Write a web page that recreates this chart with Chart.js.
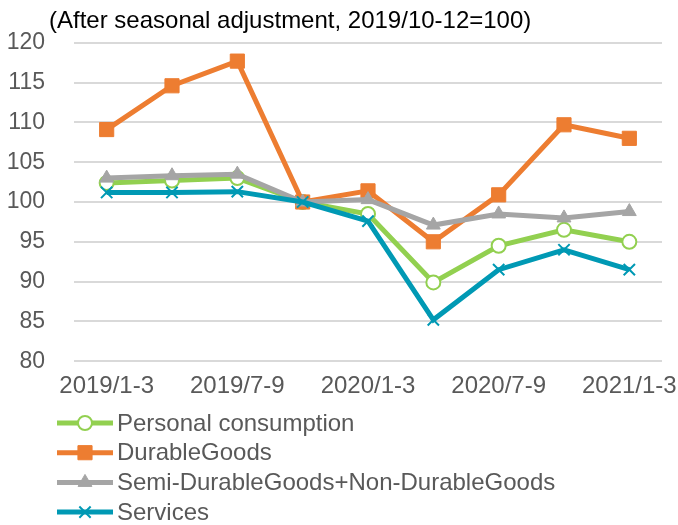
<!DOCTYPE html>
<html>
<head>
<meta charset="utf-8">
<script src="https://cdn.jsdelivr.net/npm/chart.js@4/dist/chart.umd.min.js"></script>
<style>
  html, body { margin: 0; padding: 0; background: #fff; }
  #wrap { width: 678px; height: 525px; }
</style>
</head>
<body>
<div id="wrap"><canvas id="c" width="678" height="525"></canvas></div>
<script>
const quarters = ['2019/1-3', '2019/4-6', '2019/7-9', '2019/10-12', '2020/1-3',
                  '2020/4-6', '2020/7-9', '2020/10-12', '2021/1-3']
const personal = [102.4, 102.7, 103.0, 100, 98.5, 89.9, 94.5, 96.5, 95.0]
const durable  = [109.1, 114.6, 117.7, 100, 101.4, 95.0, 100.9, 109.7, 108.0]
const semiNon  = [103.0, 103.3, 103.5, 100, 100.3, 97.1, 98.5, 98.0, 98.8]
const services = [101.2, 101.2, 101.3, 100, 97.6, 85.2, 91.5, 94.0, 91.5]
const yTicks = [80, 85, 90, 95, 100, 105, 110, 115, 120]

const FONT = "'Liberation Sans', Arial, sans-serif"
const TEXT = '#595959'

// legend drawn one item per row under the axis, like the original
const rowLegend = {
    id: 'rowLegend',
    afterDraw(chart) {
        const ctx = chart.ctx
        ctx.save()
        ctx.font = '24px ' + FONT
        ctx.fillStyle = '#000'
        ctx.textBaseline = 'middle'
        ctx.fillText('(After seasonal adjustment, 2019/10-12=100)', 49, 21)

        const x0 = chart.chartArea.left - 17
        chart.data.datasets.forEach(function (ds, i) {
            const y = 423 + i * 29.7
            ctx.strokeStyle = ds.borderColor
            ctx.lineWidth = 5
            ctx.beginPath()
            ctx.moveTo(x0, y)
            ctx.lineTo(x0 + 56, y)
            ctx.stroke()
            ctx.fillStyle = ds.pointBackgroundColor
            ctx.strokeStyle = ds.pointBorderColor
            ctx.lineWidth = ds.pointBorderWidth
            Chart.helpers.drawPoint(ctx, {
                pointStyle: ds.pointStyle, radius: ds.pointRadius,
                borderWidth: ds.pointBorderWidth, rotation: 0
            }, x0 + 28, y)
            ctx.fillStyle = TEXT
            ctx.fillText(ds.label, x0 + 60, y + 1)
        })
        ctx.restore()
    }
}

const datasets = [{
    label: 'Personal consumption',
    data: personal,
    borderColor: '#92d050',
    pointStyle: 'circle',
    pointRadius: 7,
    pointBackgroundColor: '#ffffff',
    pointBorderColor: '#92d050',
    pointBorderWidth: 2,
    order: 4
}, {
    label: 'DurableGoods',
    data: durable,
    borderColor: '#ed7d31',
    pointStyle: 'rect',
    pointRadius: 10,
    pointBackgroundColor: '#ed7d31',
    pointBorderColor: '#ed7d31',
    pointBorderWidth: 1,
    order: 3
}, {
    label: 'Semi-DurableGoods+Non-DurableGoods',
    data: semiNon,
    borderColor: '#a5a5a5',
    pointStyle: 'triangle',
    pointRadius: 8,
    pointBackgroundColor: '#a5a5a5',
    pointBorderColor: '#a5a5a5',
    pointBorderWidth: 1,
    order: 2
}, {
    label: 'Services',
    data: services,
    borderColor: '#0099b4',
    pointStyle: 'crossRot',
    pointRadius: 8,
    pointBackgroundColor: '#0099b4',
    pointBorderColor: '#0099b4',
    pointBorderWidth: 2,
    order: 1
}]

datasets.forEach(function (ds) {
    ds.borderWidth = 5
    ds.tension = 0
    ds.fill = false
})

new Chart(document.getElementById('c'), {
    type: 'line',
    data: { labels: quarters, datasets: datasets },
    plugins: [rowLegend],
    options: {
        responsive: false,
        animation: false,
        layout: { padding: { top: 38, right: 16, bottom: 113, left: 0 } },
        plugins: {
            legend: { display: false },
            title: { display: false },
            tooltip: { enabled: false }
        },
        scales: {
            x: {
                offset: true,
                afterFit: function (scale) {
                    scale.paddingLeft = 0
                    scale.paddingRight = 0
                },
                grid: { display: false, drawTicks: false },
                border: { display: false },
                ticks: {
                    autoSkip: false,
                    maxRotation: 0,
                    padding: 11,
                    color: TEXT,
                    font: { family: FONT, size: 24 },
                    callback: function (v, i) { return i % 2 === 0 ? quarters[i] : '' }
                }
            },
            y: {
                min: 80,
                max: 120,
                afterFit: function (scale) { scale.width = 74 },
                afterBuildTicks: function (scale) {
                    scale.ticks = yTicks.map(function (v) { return { value: v } })
                },
                grid: { color: '#d9d9d9', lineWidth: 2, drawTicks: false },
                border: { display: false },
                ticks: {
                    padding: 29,
                    color: TEXT,
                    font: { family: FONT, size: 23 }
                }
            }
        }
    }
})
</script>
</body>
</html>
